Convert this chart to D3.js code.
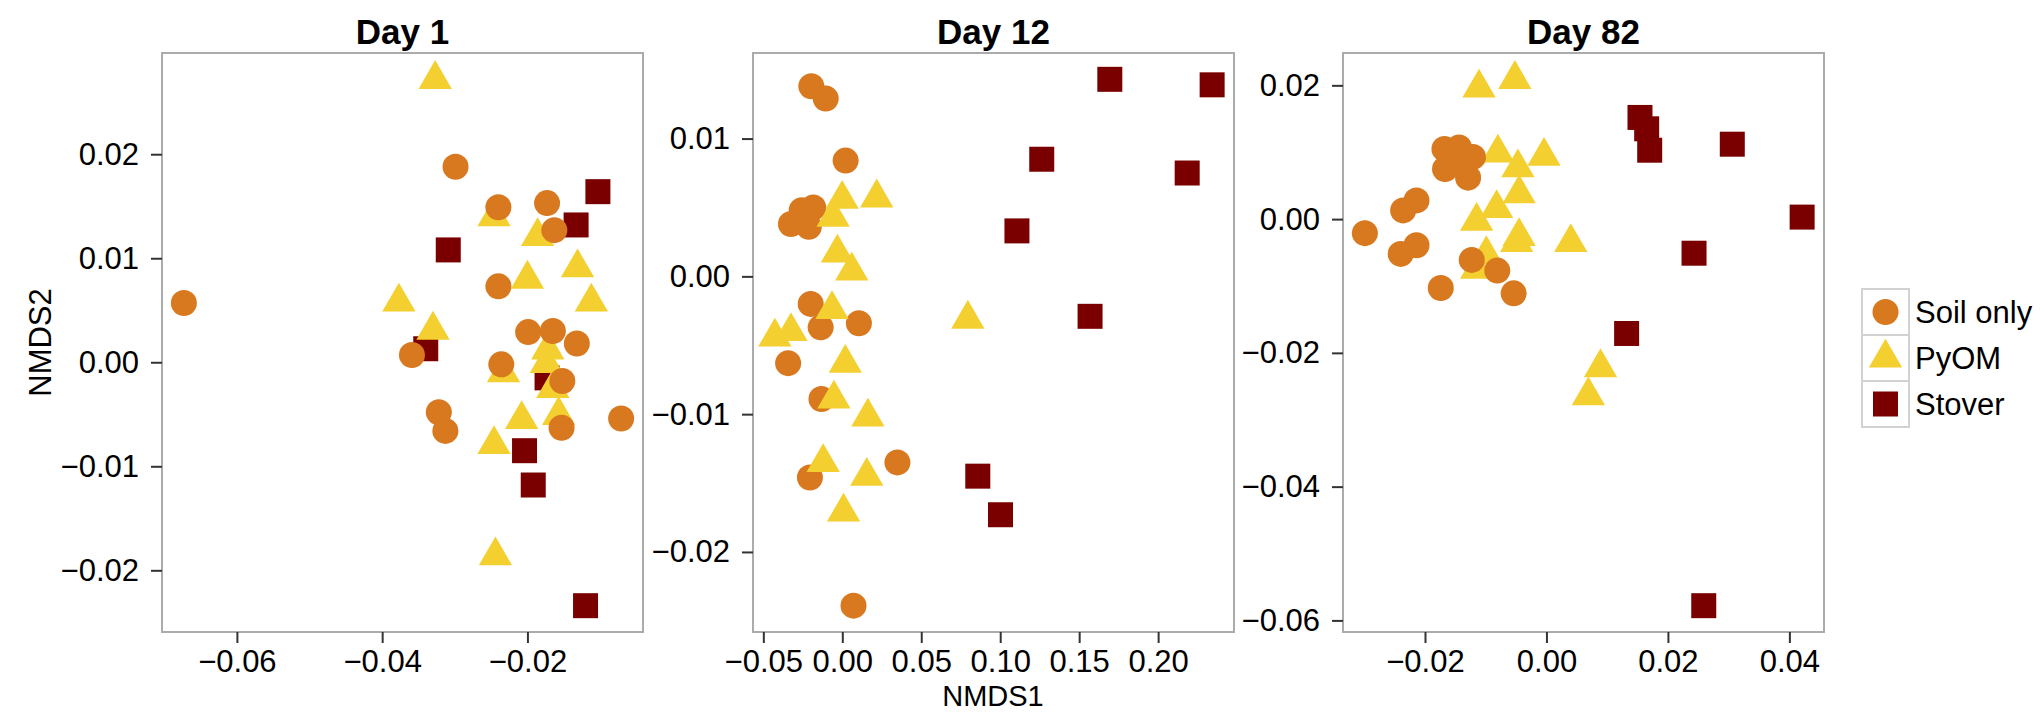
<!DOCTYPE html>
<html>
<head>
<meta charset="utf-8">
<script src="https://cdn.jsdelivr.net/npm/d3@7"></script>
<style>
  body { margin: 0; background: #fff; }
  text { font-family: "Liberation Sans", Arial, Helvetica, sans-serif; }
</style>
</head>
<body>
<div id="chart"></div>
<script>
const width = 2044;
const height = 712;

const groups = ["Soil only", "PyOM", "Stover"];
const colors = ["#d8781f", "#f4cf30", "#7a0000"];
const days = ["Day 1", "Day 12", "Day 82"];

// points as [NMDS1, NMDS2]
const day1Soil = [
  [-0.0673, 0.0057], [-0.0299, 0.0188], [-0.0240, 0.0149], [-0.0173, 0.0153],
  [-0.0163, 0.0127], [-0.0240, 0.0073], [-0.0199, 0.0029], [-0.0165, 0.0030],
  [-0.0132, 0.0018], [-0.0359, 0.0007], [-0.0236, -0.0002], [-0.0152, -0.0018],
  [-0.0322, -0.0048], [-0.0313, -0.0066], [-0.0153, -0.0063], [-0.0071, -0.0054]
];
const day1PyOM = [
  [-0.0327, 0.0272], [-0.0246, 0.0140], [-0.0186, 0.0121], [-0.0200, 0.0080],
  [-0.0131, 0.0091], [-0.0112, 0.0058], [-0.0377, 0.0058], [-0.0330, 0.0031],
  [-0.0172, 0.0012], [-0.0174, -0.0001], [-0.0165, -0.0025], [-0.0233, -0.0010],
  [-0.0208, -0.0055], [-0.0157, -0.0051], [-0.0246, -0.0079], [-0.0244, -0.0186]
];
const day1Stover = [
  [-0.0103, 0.0164], [-0.0133, 0.0132], [-0.0309, 0.0108], [-0.0340, 0.0013],
  [-0.0173, -0.0015], [-0.0204, -0.0085], [-0.0192, -0.0118], [-0.0120, -0.0234]
];

const day12Soil = [
  [-0.0196, 0.0138], [-0.0105, 0.0129], [0.0021, 0.0084], [-0.0184, 0.0050],
  [-0.0257, 0.0048], [-0.0325, 0.0038], [-0.0212, 0.0036], [-0.0200, -0.0020],
  [-0.0137, -0.0037], [0.0105, -0.0034], [-0.0343, -0.0063], [-0.0132, -0.0089],
  [0.0349, -0.0135], [-0.0205, -0.0146], [0.0071, -0.0239]
];
const day12PyOM = [
  [-0.0001, 0.0056], [0.0218, 0.0057], [-0.0058, 0.0043], [-0.0031, 0.0017],
  [0.0060, 0.0004], [-0.0065, -0.0024], [-0.0427, -0.0044], [-0.0325, -0.0040],
  [0.0019, -0.0063], [-0.0053, -0.0089], [0.0162, -0.0102], [-0.0121, -0.0135],
  [0.0155, -0.0145], [0.0008, -0.0171], [0.0795, -0.0031]
];
const day12Stover = [
  [0.1694, 0.0143], [0.1263, 0.0085], [0.1106, 0.0033], [0.1569, -0.0029],
  [0.0858, -0.0145], [0.1002, -0.0173], [0.2342, 0.0139], [0.2184, 0.0075]
];

const day82Soil = [
  [-0.0299, -0.0021], [-0.0168, 0.0105], [-0.0144, 0.0107], [-0.0121, 0.0093],
  [-0.0167, 0.0075], [-0.0129, 0.0062], [-0.0148, 0.0082], [-0.0214, 0.0028],
  [-0.0236, 0.0013], [-0.0214, -0.0039], [-0.0240, -0.0052], [-0.0123, -0.0061],
  [-0.0081, -0.0077], [-0.0174, -0.0103], [-0.0054, -0.0111]
];
const day82PyOM = [
  [-0.0080, 0.0099], [-0.0004, 0.0094], [-0.0047, 0.0077], [-0.0045, 0.0038],
  [-0.0082, 0.0016], [-0.0115, -0.0003], [-0.0045, -0.0026], [-0.0049, -0.0035],
  [0.0040, -0.0035], [-0.0099, -0.0053], [-0.0115, -0.0075], [0.0089, -0.0222],
  [0.0069, -0.0264], [-0.0111, 0.0196], [-0.0052, 0.0209]
];
const day82Stover = [
  [0.0154, 0.0152], [0.0165, 0.0135], [0.0170, 0.0103], [0.0306, 0.0112],
  [0.0243, -0.0051], [0.0132, -0.0171], [0.0421, 0.0003], [0.0259, -0.0578]
];

const xTicks = [
  [-0.06, -0.04, -0.02],
  [-0.05, 0.00, 0.05, 0.10, 0.15, 0.20],
  [-0.02, 0.00, 0.02, 0.04]
];
const yTicks = [
  [-0.02, -0.01, 0.00, 0.01, 0.02],
  [-0.02, -0.01, 0.00, 0.01],
  [-0.06, -0.04, -0.02, 0.00, 0.02]
];

const panelData = [
  [day1Soil, day1PyOM, day1Stover],
  [day12Soil, day12PyOM, day12Stover],
  [day82Soil, day82PyOM, day82Stover]
];
// which group is drawn first in each panel (overlaps follow the picture)
const drawOrder = [[2, 1, 0], [0, 1, 2], [1, 0, 2]];

const panelLeft = [162, 753, 1343];
const panelW = 481;
const panelTop = 53;
const panelH = 579;

const fmt = d3.format(".2f");
const shapes = [d3.symbolCircle, d3.symbolTriangle, d3.symbolSquare];
const sizes = [Math.PI * 13 * 13, 480, 625];
const symbol = i => d3.symbol().type(shapes[i]).size(sizes[i])();

const svg = d3.select('#chart').append('svg')
  .attr('width', width)
  .attr('height', height);

// pad the data range by 5% like ggplot does
function padded(values) {
  const [lo, hi] = d3.extent(values);
  const pad = (hi - lo) * 0.05;
  return [lo - pad, hi + pad];
}

panelData.forEach((sets, p) => {
  const all = sets.flat();
  const x = d3.scaleLinear()
    .domain(padded(all.map(d => d[0])))
    .range([panelLeft[p], panelLeft[p] + panelW]);
  const y = d3.scaleLinear()
    .domain(padded(all.map(d => d[1])))
    .range([panelTop + panelH, panelTop]);

  const g = svg.append('g');

  drawOrder[p].forEach(gi => {
    g.selectAll(null)
      .data(sets[gi])
      .join('path')
        .attr('d', symbol(gi))
        .attr('fill', colors[gi])
        .attr('transform', d => `translate(${x(d[0])},${y(d[1])})`);
  });

  // panel border
  g.append('rect')
    .attr('x', panelLeft[p])
    .attr('y', panelTop)
    .attr('width', panelW)
    .attr('height', panelH)
    .attr('fill', 'none')
    .attr('stroke', '#ababab')
    .attr('stroke-width', 2);

  const xAxis = g.append('g')
    .attr('transform', `translate(0, ${panelTop + panelH})`)
    .call(d3.axisBottom(x).tickValues(xTicks[p]).tickFormat(fmt).tickSize(11).tickPadding(7));
  const yAxis = g.append('g')
    .attr('transform', `translate(${panelLeft[p]}, 0)`)
    .call(d3.axisLeft(y).tickValues(yTicks[p]).tickFormat(fmt).tickSize(11).tickPadding(12));

  [xAxis, yAxis].forEach(a => {
    a.select('.domain').remove();
    a.selectAll('.tick line').attr('stroke', '#333').attr('stroke-width', 2);
    a.selectAll('.tick text')
      .attr('fill', 'black')
      .attr('font-size', '31px')
      .attr('font-family', '"Liberation Sans", Arial, sans-serif');
  });

  // panel title
  g.append('text')
    .attr('x', panelLeft[p] + panelW / 2)
    .attr('y', 44)
    .attr('text-anchor', 'middle')
    .attr('font-size', '35px')
    .attr('font-weight', 'bold')
    .text(days[p]);
});

// axis titles
svg.append('text')
  .attr('x', (panelLeft[0] + panelLeft[2] + panelW) / 2)
  .attr('y', 705.5)
  .attr('text-anchor', 'middle')
  .attr('font-size', '29px')
  .text('NMDS1');

svg.append('text')
  .attr('transform', `translate(51, ${panelTop + panelH / 2}) rotate(-90)`)
  .attr('text-anchor', 'middle')
  .attr('font-size', '31px')
  .text('NMDS2');

// legend
const keyX = 1862, keyY = 289, keyW = 47, keyH = 46;
const legend = svg.append('g');
groups.forEach((name, i) => {
  const k = legend.append('g').attr('transform', `translate(${keyX}, ${keyY + i * keyH})`);
  k.append('rect')
    .attr('width', keyW)
    .attr('height', keyH)
    .attr('fill', 'white')
    .attr('stroke', '#d2d2d2')
    .attr('stroke-width', 2);
  k.append('path')
    .attr('d', symbol(i))
    .attr('fill', colors[i])
    .attr('transform', `translate(${keyW / 2}, ${keyH / 2})`);
  k.append('text')
    .attr('x', keyW + 6)
    .attr('y', keyH / 2)
    .attr('dy', '0.36em')
    .attr('font-size', '31px')
    .text(name);
});
</script>
</body>
</html>
